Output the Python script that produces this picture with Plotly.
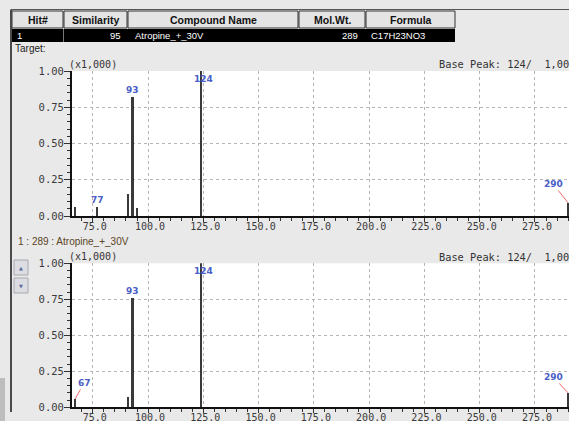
import plotly.graph_objects as go

W, H = 569, 421

# ---- data ----
mz_target = [67, 77, 91, 93, 95, 124, 290]
int_target = [0.06, 0.065, 0.15, 0.82, 0.055, 1.00, 0.09]
mz_library = [67, 91, 93, 124, 290]
int_library = [0.058, 0.067, 0.757, 1.00, 0.10]

labels_target = [77, 93, 124, 290]
labels_library = [67, 93, 124, 290]

header_cols = ["Hit#", "Similarity", "Compound Name", "Mol.Wt.", "Formula"]
hit_row = ["1", "95", "Atropine_+_30V", "289", "C17H23NO3"]
base_peak_text = "Base Peak: 124/  1,000"
scale_text = "(x1,000)"
library_title = "1 : 289 : Atropine_+_30V"

x_range = [65.6, 290.4]

def px(x):
    return x / W

def py(y):
    return 1 - y / H

BG = "#e9e9e9"
LABEL_BLUE = "#4a5ec6"
MONO = "DejaVu Sans Mono"
SANS = "Liberation Sans"

fig = go.Figure()

fig.add_trace(go.Bar(x=mz_target, y=int_target, width=0.9,
                     marker=dict(color="#3a3a3a", line=dict(width=0)),
                     xaxis="x", yaxis="y", showlegend=False, hoverinfo="x+y"))
fig.add_trace(go.Bar(x=mz_library, y=int_library, width=0.9,
                     marker=dict(color="#3a3a3a", line=dict(width=0)),
                     xaxis="x2", yaxis="y2", showlegend=False, hoverinfo="x+y"))

def xaxis_style(anchor):
    return dict(
        domain=[px(72), 1.0], range=x_range, anchor=anchor,
        tick0=0, dtick=25, tickformat=".1f",
        showgrid=True, gridcolor="#b5b5b5", griddash="3px,3px", gridwidth=1,
        zeroline=False, showline=True, linecolor="#111", linewidth=2,
        ticks="outside", ticklen=4, tickcolor="#333", tickwidth=1,
        minor=dict(dtick=5, ticks="outside", ticklen=3, tickcolor="#333", showgrid=False),
        tickfont=dict(family=MONO, size=10, color="#3a3a3a"),
        ticklabelshift=2, ticklabelstandoff=-4, automargin=False, fixedrange=True,
    )

def yaxis_style(anchor, dom):
    return dict(
        domain=dom, range=[0, 1.0], anchor=anchor,
        tick0=0, dtick=0.25, tickformat=".2f",
        showgrid=True, gridcolor="#b5b5b5", griddash="3px,3px", gridwidth=1,
        zeroline=False, showline=True, linecolor="#111", linewidth=2,
        ticks="outside", ticklen=6, tickcolor="#333", tickwidth=1,
        minor=dict(dtick=0.05, ticks="outside", ticklen=3, tickcolor="#333", showgrid=False),
        tickfont=dict(family=MONO, size=10.5, color="#3a3a3a"),
        ticklabelstandoff=-2, automargin=False, fixedrange=True,
    )

top_dom = [py(216), py(71)]
bot_dom = [py(407.3), py(263.3)]

fig.update_layout(
    width=W, height=H,
    margin=dict(l=0, r=0, t=0, b=0),
    paper_bgcolor=BG, plot_bgcolor="white",
    xaxis=xaxis_style("y"),
    yaxis=yaxis_style("x", top_dom),
    xaxis2=xaxis_style("y2"),
    yaxis2=yaxis_style("x2", bot_dom),
    bargap=0, showlegend=False,
)

shapes = []
annotations = []

# ---- hit table ----
col_edges = [(12, 63), (64, 127), (128, 298), (299, 365), (366, 455)]
shapes.append(dict(type="line", xref="paper", yref="paper",
                   x0=px(11), x1=1.0, y0=py(9.5), y1=py(9.5),
                   line=dict(color="#555", width=1)))
for (x0, x1), name in zip(col_edges, header_cols):
    shapes.append(dict(type="rect", xref="paper", yref="paper",
                       x0=px(x0), x1=px(x1), y0=py(28), y1=py(11),
                       fillcolor="#e4e4e4", line=dict(color="#333", width=1)))
    annotations.append(dict(xref="paper", yref="paper", x=px((x0 + x1) / 2), y=py(19.5),
                            text="<b>%s</b>" % name, showarrow=False,
                            xanchor="center", yanchor="middle",
                            font=dict(family=SANS, size=10.5, color="#111")))
shapes.append(dict(type="rect", xref="paper", yref="paper",
                   x0=px(12), x1=px(455), y0=py(42), y1=py(29),
                   fillcolor="#000", line=dict(color="#000", width=0)))
shapes.append(dict(type="line", xref="paper", yref="paper",
                   x0=px(63.5), x1=px(63.5), y0=py(42), y1=py(29),
                   line=dict(color="#777", width=1)))
row_pos = [(15, "left"), (123, "right"), (133, "left"), (360, "right"), (369, "left")]
for (xx, anc), txt in zip(row_pos, hit_row):
    annotations.append(dict(xref="paper", yref="paper", x=px(xx), y=py(35.5),
                            text=txt, showarrow=False, xanchor=anc, yanchor="middle",
                            font=dict(family=SANS, size=9.5, color="white")))

annotations.append(dict(xref="paper", yref="paper", x=px(13), y=py(48),
                        text="Target:", showarrow=False, xanchor="left", yanchor="middle",
                        font=dict(family=SANS, size=10, color="#222")))

# left frame line
shapes.append(dict(type="line", xref="paper", yref="paper",
                   x0=px(11), x1=px(11), y0=py(412), y1=py(9.5),
                   line=dict(color="#4a4a4a", width=2)))
# shadow bottom-left
shapes.append(dict(type="rect", xref="paper", yref="paper",
                   x0=0, x1=px(5), y0=0, y1=py(378),
                   fillcolor="#bdbdbd", line=dict(width=0)))

# panel headers
for yy in (64.5, 256.5):
    annotations.append(dict(xref="paper", yref="paper", x=px(67), y=py(yy),
                            text=scale_text, showarrow=False, xanchor="left", yanchor="middle",
                            font=dict(family=MONO, size=10, color="#333")))
    annotations.append(dict(xref="paper", yref="paper", x=px(437), y=py(yy),
                            text=base_peak_text, showarrow=False, xanchor="left", yanchor="middle",
                            font=dict(family=MONO, size=10.3, color="#333")))

annotations.append(dict(xref="paper", yref="paper", x=px(16), y=py(241),
                        text=library_title, showarrow=False, xanchor="left", yanchor="middle",
                        font=dict(family=SANS, size=10, color="#5a4525")))

# scroll buttons
for (y0, y1, sym) in [(260, 275, "▲"), (278, 293, "▼")]:
    shapes.append(dict(type="rect", xref="paper", yref="paper",
                       x0=px(14), x1=px(28), y0=py(y1), y1=py(y0),
                       fillcolor="#dcdde2", line=dict(color="#a8a8b0", width=1)))
    annotations.append(dict(xref="paper", yref="paper", x=px(21), y=py((y0 + y1) / 2),
                            text=sym, showarrow=False, xanchor="center", yanchor="middle",
                            font=dict(family="DejaVu Sans", size=5, color="#5a6a9a")))

# ---- peak labels ----
lab_font = dict(family="DejaVu Sans", size=9, color=LABEL_BLUE)

def add_labels(mzs, ints, labels, xr, yr, leaders):
    for m in labels:
        i = ints[mzs.index(m)]
        if m in leaders:
            ax, ay = leaders[m]
            annotations.append(dict(xref=xr, yref=yr, x=m, y=i, text="<b>%d</b>" % m,
                                    showarrow=True, arrowhead=0, arrowwidth=1,
                                    arrowcolor="#f06a6a", ax=ax, ay=ay, standoff=0,
                                    font=lab_font))
        elif i >= 0.97:
            annotations.append(dict(xref=xr, yref=yr, x=m, y=1.0, text="<b>%d</b>" % m,
                                    showarrow=False, yanchor="top", xshift=2, yshift=-1,
                                    font=lab_font))
        else:
            annotations.append(dict(xref=xr, yref=yr, x=m, y=i, text="<b>%d</b>" % m,
                                    showarrow=False, yanchor="bottom", yshift=0,
                                    font=lab_font))

add_labels(mz_target, int_target, labels_target, "x", "y", {290: (-15, -19)})
add_labels(mz_library, int_library, labels_library, "x2", "y2",
           {290: (-15, -16), 67: (9, -16)})

fig.update_layout(shapes=shapes, annotations=annotations)
fig.write_html("out.html",
               config={"displayModeBar": False},
               post_script="document.body.style.margin='0';document.body.style.padding='0';"
                           "document.body.style.overflow='hidden';")
